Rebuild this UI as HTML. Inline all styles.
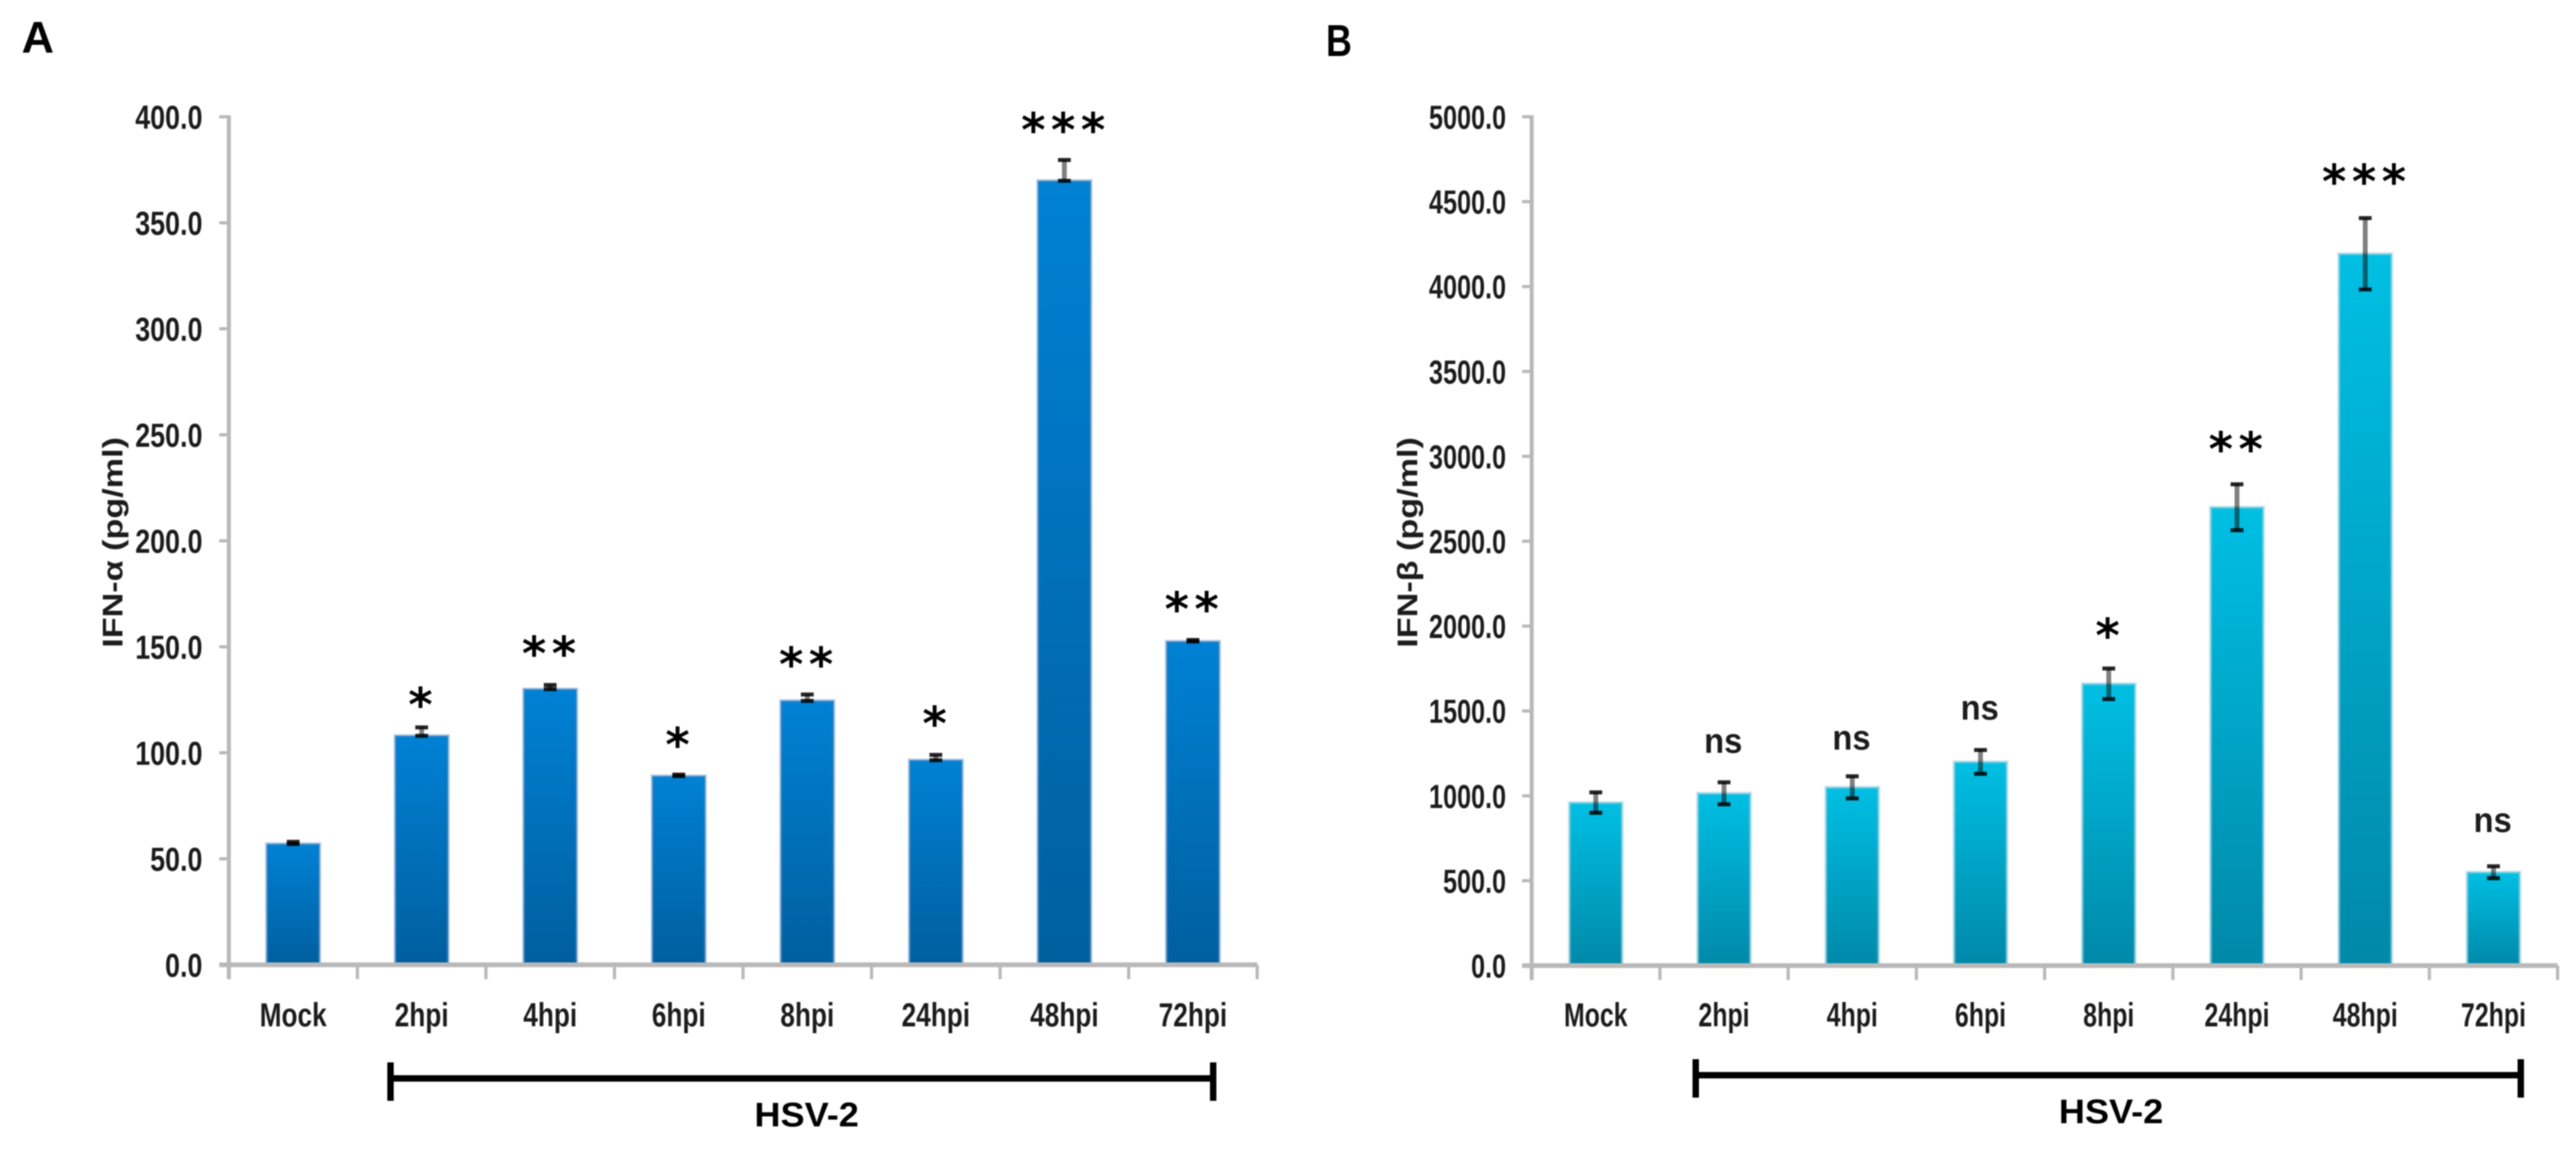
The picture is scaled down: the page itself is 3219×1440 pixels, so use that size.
<!DOCTYPE html>
<html lang="en">
<head>
<meta charset="utf-8">
<title>IFN-alpha and IFN-beta after HSV-2 infection</title>
<style>
  html, body { margin: 0; padding: 0; background: #fff; }
  svg { display: block; }
  text { font-family: "Liberation Sans", sans-serif; font-weight: 700; fill: #1c1c1c; }
  .soft { filter: blur(0.9px); }
</style>
</head>
<body>
<svg id="figure" xmlns="http://www.w3.org/2000/svg" width="3219" height="1440" viewBox="0 0 3219 1440">
  <defs>
    <linearGradient id="gradA" x1="0" y1="0" x2="0" y2="1">
      <stop offset="0" stop-color="#0081d4"/>
      <stop offset="1" stop-color="#005e9e"/>
    </linearGradient>
    <linearGradient id="gradB" x1="0" y1="0" x2="0" y2="1">
      <stop offset="0" stop-color="#00bfe3"/>
      <stop offset="1" stop-color="#0088a8"/>
    </linearGradient>
  </defs>
  <rect width="3219" height="1440" fill="#ffffff"/>
  <g id="panelA" class="soft"></g>
  <g id="panelB" class="soft"></g>
</svg>
<script>
const categories = ['Mock', '2hpi', '4hpi', '6hpi', '8hpi', '24hpi', '48hpi', '72hpi'];

const alphaValues = [57, 108, 130, 89, 124.5, 96.5, 369.8, 152.5];
const alphaErrors = [1, 4, 2, 0.7, 3, 2.5, 9.8, 0.7];
const alphaTicks = [0, 50, 100, 150, 200, 250, 300, 350, 400];
const alphaSigLabels = ['', '*', '**', '*', '**', '*', '***', '**'];
const alphaSigLevels = [0, 125, 149, 106, 144, 116, 396, 170];

const betaValues = [960, 1015, 1050, 1200, 1660, 2700, 4193, 550];
const betaErrors = [60, 65, 65, 70, 90, 135, 210, 35];
const betaTicks = [0, 500, 1000, 1500, 2000, 2500, 3000, 3500, 4000, 4500, 5000];
const betaSigLabels = ['', 'ns', 'ns', 'ns', '*', '**', '***', 'ns'];
const betaSigLevels = [0, 1311, 1330, 1505, 1972, 3071, 4646, 844];

const NS = 'http://www.w3.org/2000/svg';

function make(parent, tag, attrs, content) {
  const el = document.createElementNS(NS, tag);
  for (const k in attrs) el.setAttribute(k, attrs[k]);
  if (content !== undefined) el.textContent = content;
  parent.appendChild(el);
  return el;
}

function scaledText(parent, content, x, y, size, sx, anchor) {
  return make(parent, 'text', {
    transform: 'translate(' + x + ',' + y + ') scale(' + sx + ',1)',
    'font-size': size,
    'text-anchor': anchor
  }, content);
}

function drawPanel(cfg) {
  const root = document.getElementById(cfg.id);
  const yMax = cfg.ticks[cfg.ticks.length - 1];
  const yScale = function (v) { return cfg.y0 - (v / yMax) * (cfg.y0 - cfg.yTop); };
  const band = (cfg.x1 - cfg.x0) / categories.length;
  const xCenter = function (i) { return cfg.x0 + band * (i + 0.5); };
  const axisColor = '#b9b9b9';

  // Value axis
  const yAxis = make(root, 'line', { x1: cfg.x0, x2: cfg.x0, y1: cfg.yTop - 2, y2: cfg.y0 + 18, stroke: axisColor, 'stroke-width': 5 });
  
  

  cfg.ticks.forEach(function (t) {
    const y = yScale(t);
    const tick = make(root, 'line', { x1: cfg.x0 - 12, x2: cfg.x0, y1: y, y2: y, stroke: axisColor, 'stroke-width': 4 });
    
    
    const label = scaledText(root, t.toFixed(1), cfg.yLabelX, y + 15, 42, cfg.yLabelScale, 'end');
    
    
  });

  // Bars
  categories.forEach(function (cat, i) {
    const cx = xCenter(i);
    const top = yScale(cfg.values[i]);
    const bar = make(root, 'rect', {
      x: cx - 33, y: top, width: 66, height: cfg.y0 - top,
      fill: 'url(#' + cfg.grad + ')', stroke: cfg.edge, 'stroke-width': 4
    });
    
    
  });

  // Category axis
  const xAxis = make(root, 'line', { x1: cfg.x0 - 12, x2: cfg.x1, y1: cfg.y0, y2: cfg.y0, stroke: axisColor, 'stroke-width': 6 });
  
  

  for (let i = 0; i <= categories.length; i++) {
    const x = cfg.x0 + band * i;
    const xt = make(root, 'line', { x1: x, x2: x, y1: cfg.y0, y2: cfg.y0 + 18, stroke: axisColor, 'stroke-width': 4 });
    
    
  }

  // Error bars, category labels, significance marks
  categories.forEach(function (cat, i) {
    const cx = xCenter(i);
    const hi = yScale(cfg.values[i] + cfg.errors[i]);
    const lo = cfg.plusOnly ? yScale(cfg.values[i]) : yScale(cfg.values[i] - cfg.errors[i]);

    const stem = make(root, 'line', { x1: cx, x2: cx, y1: hi, y2: lo, stroke: '#000', 'stroke-opacity': 0.5, 'stroke-width': 6 });
    
    
    const capTop = make(root, 'line', { x1: cx - 8, x2: cx + 8, y1: hi, y2: hi, stroke: '#000', 'stroke-opacity': 0.85, 'stroke-width': 5 });
    
    
    const capLow = make(root, 'line', { x1: cx - 8, x2: cx + 8, y1: lo, y2: lo, stroke: '#000', 'stroke-opacity': 0.85, 'stroke-width': 5 });
    
    

    const catLabel = scaledText(root, cat, cx, cfg.catBaseline, 42, cfg.catScale, 'middle');
    
    

    const sig = cfg.sigLabels[i];
    if (sig) {
      const sy = yScale(cfg.sigLevels[i]);
      let mark;
      if (sig === 'ns') {
        mark = scaledText(root, sig, cx - 1, sy + 12, 44, 0.93, 'middle');
      } else {
        mark = make(root, 'text', {
          x: cx + 2, y: sy + 26, 'font-size': 58, 'text-anchor': 'middle', 'letter-spacing': 7,
          style: 'font-family:"DejaVu Sans",sans-serif;font-weight:700;fill:#000'
        }, sig);
      }
      
      
    }
  });

  // Axis title
  const title = make(root, 'text', {
    transform: 'translate(' + cfg.titleX + ',' + cfg.titleY + ') rotate(-90) scale(1.22,1)',
    'font-size': 35, 'text-anchor': 'middle'
  }, cfg.title);
  
  

  // Panel letter
  const letter = scaledText(root, cfg.letter, cfg.letterX, cfg.letterY, 56, cfg.letterScale, 'start');
  
  
  letter.setAttribute('style', 'fill:#000');

  // HSV-2 bracket
  const br = make(root, 'g', { stroke: '#000', 'stroke-width': 8, fill: 'none' });
  
  
  make(br, 'line', { x1: cfg.brX0, x2: cfg.brX1, y1: cfg.brY, y2: cfg.brY });
  make(br, 'line', { x1: cfg.brX0, x2: cfg.brX0, y1: cfg.brY - 20, y2: cfg.brY + 28 });
  make(br, 'line', { x1: cfg.brX1, x2: cfg.brX1, y1: cfg.brY - 20, y2: cfg.brY + 28 });

  const group = scaledText(root, 'HSV-2', cfg.hsvX, cfg.hsvY, 43, 1.05, 'middle');
  
  
  group.setAttribute('style', 'fill:#000');
}

drawPanel({
  id: 'panelA', letter: 'A', title: 'IFN-\u03b1 (pg/ml)', grad: 'gradA', edge: 'rgba(70,130,190,0.45)',
  values: alphaValues, errors: alphaErrors, ticks: alphaTicks, sigLabels: alphaSigLabels, sigLevels: alphaSigLevels,
  plusOnly: true,
  x0: 286, x1: 1571, y0: 1206, yTop: 146,
  yLabelX: 253, yLabelScale: 0.8, catScale: 0.78, catBaseline: 1283,
  titleX: 153, titleY: 678, letterX: 27, letterY: 66, letterScale: 1,
  brX0: 488, brX1: 1516, brY: 1348, hsvX: 1008, hsvY: 1408
});

drawPanel({
  id: 'panelB', letter: 'B', title: 'IFN-\u03b2 (pg/ml)', grad: 'gradB', edge: 'rgba(150,205,220,0.5)',
  values: betaValues, errors: betaErrors, ticks: betaTicks, sigLabels: betaSigLabels, sigLevels: betaSigLevels,
  plusOnly: false,
  x0: 1914, x1: 3196, y0: 1207, yTop: 146,
  yLabelX: 1882, yLabelScale: 0.75, catScale: 0.74, catBaseline: 1283,
  titleX: 1771, titleY: 678, letterX: 1657, letterY: 70, letterScale: 0.8,
  brX0: 2119, brX1: 3150, brY: 1344, hsvX: 2638, hsvY: 1404
});
</script>
</body>
</html>
